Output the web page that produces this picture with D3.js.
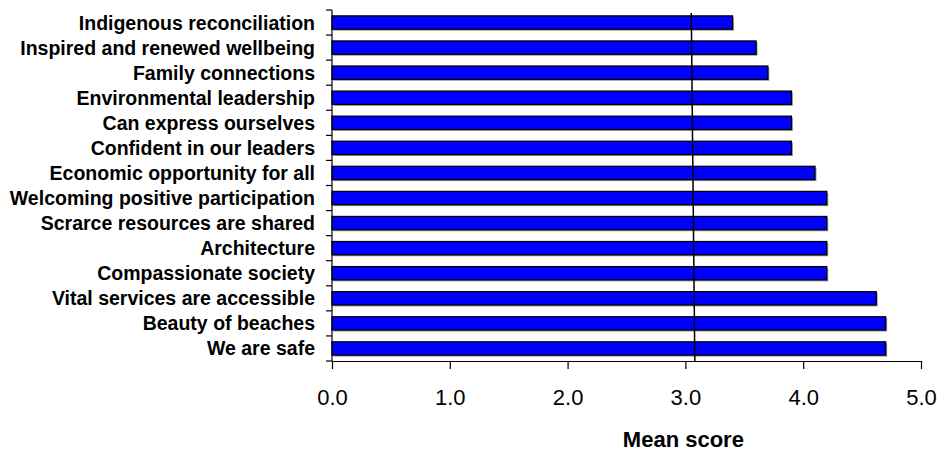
<!DOCTYPE html>
<html>
<head>
<meta charset="utf-8">
<script src="https://cdn.jsdelivr.net/npm/d3@7"></script>
<style>
  html, body { margin: 0; padding: 0; background: #fff; }
  svg { display: block; font-family: "Liberation Sans", Arial, sans-serif; }
</style>
</head>
<body>
<svg id="chart" width="939" height="452"></svg>
<script>
// Community priorities, ordered top to bottom as listed
const categories = [
  "Indigenous reconciliation",
  "Inspired and renewed wellbeing",
  "Family connections",
  "Environmental leadership",
  "Can express ourselves",
  "Confident in our leaders",
  "Economic opportunity for all",
  "Welcoming positive participation",
  "Scrarce resources are shared",
  "Architecture",
  "Compassionate society",
  "Vital services are accessible",
  "Beauty of beaches",
  "We are safe"
];
const meanScores = [3.4, 3.6, 3.7, 3.9, 3.9, 3.9, 4.1, 4.2, 4.2, 4.2, 4.2, 4.62, 4.7, 4.7];
const xTicks = [0, 1, 2, 3, 4, 5];
const xTickLabels = ["0.0", "1.0", "2.0", "3.0", "4.0", "5.0"];
// Reference marker near the scale midpoint (value at top end, value at bottom end)
const refLineValues = [3.05, 3.08];
const axisTitle = "Mean score";

const svg = d3.select("#chart");

const plot = { left: 332, right: 921, top: 10, bottom: 361 };

const x = d3.scaleLinear().domain([0, 5]).range([plot.left, plot.right]);
const y = d3.scaleBand()
  .domain(categories)
  .range([plot.top, plot.bottom])
  .paddingInner(0.47)
  .paddingOuter(0.235);

const step = y.step();

// Bar shadows
svg.append("g")
  .selectAll("rect")
  .data(categories)
  .join("rect")
  .attr("x", x(0) + 1.5)
  .attr("y", d => y(d) + 1.5)
  .attr("width", (d, i) => x(meanScores[i]) - x(0))
  .attr("height", y.bandwidth())
  .attr("fill", "#9a9a9a");

// Bars
svg.append("g")
  .selectAll("rect")
  .data(categories)
  .join("rect")
  .attr("x", x(0))
  .attr("y", d => y(d))
  .attr("width", (d, i) => x(meanScores[i]) - x(0))
  .attr("height", y.bandwidth())
  .attr("fill", "#0000ff")
  .attr("stroke", "#000")
  .attr("stroke-width", 1.3);

// Category axis: line plus ticks at the boundaries between categories
const yAxis = svg.append("g");
yAxis.append("line")
  .attr("x1", plot.left).attr("x2", plot.left)
  .attr("y1", plot.top).attr("y2", plot.bottom)
  .attr("stroke", "#000").attr("stroke-width", 1.2);
yAxis.selectAll("line.tick")
  .data(d3.range(categories.length + 1))
  .join("line")
  .attr("class", "tick")
  .attr("x1", plot.left - 6).attr("x2", plot.left)
  .attr("y1", i => plot.top + i * step)
  .attr("y2", i => plot.top + i * step)
  .attr("stroke", "#000").attr("stroke-width", 1.2);
yAxis.selectAll("text")
  .data(categories)
  .join("text")
  .attr("x", plot.left - 17)
  .attr("y", d => y(d) + y.bandwidth() / 2)
  .attr("dy", "0.36em")
  .attr("text-anchor", "end")
  .attr("font-size", "19.5px")
  .attr("font-weight", "bold")
  .attr("fill", "#000")
  .text(d => d);

// Value axis
const xAxis = svg.append("g")
  .attr("transform", `translate(0,${plot.bottom})`)
  .call(d3.axisBottom(x)
    .tickValues(xTicks)
    .tickFormat((d, i) => xTickLabels[i])
    .tickSize(8)
    .tickSizeOuter(0)
    .tickPadding(20));
xAxis.select(".domain").attr("stroke", "#000").attr("stroke-width", 1.2);
xAxis.selectAll(".tick line").attr("stroke", "#000").attr("stroke-width", 1.2);
xAxis.selectAll(".tick text")
  .attr("font-size", "22px")
  .attr("font-family", "'Liberation Sans', Arial, sans-serif")
  .attr("fill", "#000");

// Reference marker
svg.append("line")
  .attr("x1", x(refLineValues[0])).attr("y1", plot.top + 3)
  .attr("x2", x(refLineValues[1])).attr("y2", plot.bottom)
  .attr("stroke", "#000")
  .attr("stroke-width", 1.5);

// Axis title, set under the 3.0 tick
svg.append("text")
  .attr("x", x(3) - 2)
  .attr("y", 447)
  .attr("text-anchor", "middle")
  .attr("font-size", "22px")
  .attr("font-weight", "bold")
  .attr("fill", "#000")
  .text(axisTitle);
</script>
</body>
</html>
